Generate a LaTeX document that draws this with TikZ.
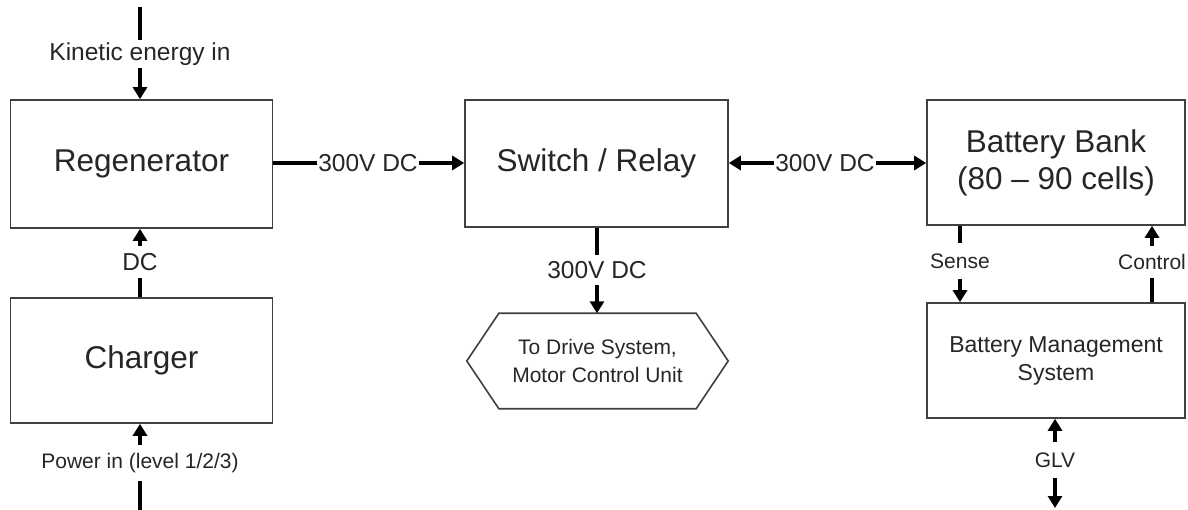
\documentclass[tikz,border=0pt]{standalone}
\usepackage{fontspec}
\setmainfont{Liberation Sans}
\usetikzlibrary{arrows.meta}
\begin{document}
\begin{tikzpicture}[x=1pt,y=-1pt,
  box/.style={draw=black!75, line width=1.6pt, rectangle, inner sep=0pt, text=black!85, align=center},
  big/.style={font=\fontsize{31.5}{37}\selectfont},
  mid/.style={font=\fontsize{23}{28}\selectfont},
  sm/.style={font=\fontsize{21}{28}\selectfont},
  lbl/.style={inner sep=0pt, inner xsep=1.5pt, text=black!85, font=\fontsize{24.5}{28}\selectfont},
  slbl/.style={inner sep=0pt, inner xsep=1.5pt, text=black!85, font=\fontsize{21}{26}\selectfont},
  conn/.style={line width=3.5pt, black},
  arr/.style={conn, -{Triangle[length=12pt,width=14pt]}},
  darr/.style={conn, {Triangle[length=12pt,width=14pt]}-{Triangle[length=12pt,width=14pt]}},
]
\useasboundingbox[fill=white] (0,0) rectangle (1188,510);

% boxes
\node[box, big, minimum width=262pt, minimum height=128pt] (regen) at (141.5,164) {Regenerator};
\node[box, big, minimum width=262pt, minimum height=125pt] (charger) at (141.5,360.5) {Charger};
\node[box, big, minimum width=263pt, minimum height=127pt] (sw) at (596.5,163.5) {Switch / Relay};
\node[box, big, minimum width=258pt, minimum height=125pt] (bat) at (1056,162.5) {Battery Bank\\(80 -- 90 cells)};
\node[box, mid, minimum width=258pt, minimum height=115pt] (bms) at (1056,360.5) {Battery Management\\System};
\node[inner sep=0pt, minimum width=261pt, minimum height=95pt, sm, text=black!85, align=center] (hex) at (597.5,361) {To Drive System,\\Motor Control Unit};
\draw[draw=black!75, line width=1.6pt]
  ([xshift=32pt]hex.north west) -- ([xshift=-32pt]hex.north east) -- (hex.east)
  -- ([xshift=-32pt]hex.south east) -- ([xshift=32pt]hex.south west) -- (hex.west) -- cycle;

% labels
\node[lbl, minimum height=28pt] (kin) at (140,54) {Kinetic energy in};
\coordinate (kintop) at (140,7);
\node[lbl, minimum height=31pt] (dc) at (140,262) {DC};
\node[slbl, minimum height=35pt] (pow) at (140,463) {Power in (level 1/2/3)};
\coordinate (powbot) at (140,510);
\node[lbl] (l1) at (368,163) {300V DC};
\node[lbl] (l2) at (825,163) {300V DC};
\node[lbl, minimum height=30pt] (l3) at (597,270) {300V DC};
\node[slbl, minimum height=35pt] (sense) at (960,261) {Sense};
\node[slbl, minimum height=31pt] (ctrl) at (1152,262) {Control};
\node[slbl, minimum height=36pt] (glv) at (1055,460) {GLV};
\coordinate (glvbot) at (1055,508);

% connectors
\draw[conn] (kintop) -- (kin.north);
\draw[arr] (kin.south) -- (regen.north -| kin);
\draw[conn] (charger.north -| dc) -- (dc.south);
\draw[arr] (dc.north) -- (regen.south -| dc);
\draw[conn] (powbot) -- (pow.south);
\draw[arr] (pow.north) -- (charger.south -| pow);
\draw[conn] (regen.east |- l1) -- (l1.west);
\draw[arr] (l1.east) -- (sw.west |- l1);
\draw[arr] (l2.west) -- (sw.east |- l2);
\draw[arr] (l2.east) -- (bat.west |- l2);
\draw[conn] (sw.south -| l3) -- (l3.north);
\draw[arr] (l3.south) -- (hex.north -| l3);
\draw[conn] (bat.south -| sense) -- (sense.north);
\draw[arr] (sense.south) -- (bms.north -| sense);
\draw[conn] (bms.north -| ctrl) -- (ctrl.south);
\draw[arr] (ctrl.north) -- (bat.south -| ctrl);
\draw[arr] (glv.north) -- (bms.south -| glv);
\draw[arr] (glv.south) -- (glvbot);
\end{tikzpicture}
\end{document}
